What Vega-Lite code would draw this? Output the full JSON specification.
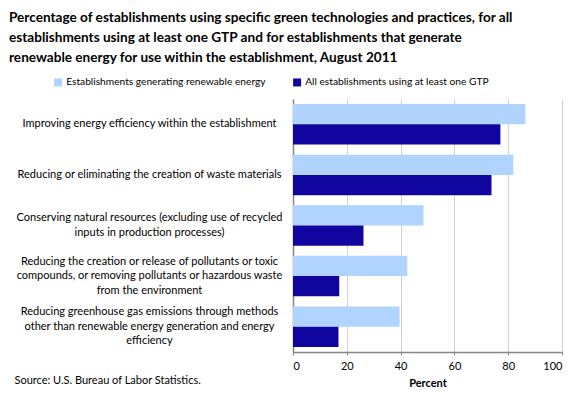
{
  "$schema": "https://vega.github.io/schema/vega-lite/v6.json",
  "width": 269,
  "height": 253,
  "autosize": {"type": "none"},
  "padding": {"left": 293, "top": 99, "right": 18, "bottom": 44},
  "background": "white",
  "title": {
    "text": [
      "Percentage of establishments using specific green technologies and practices, for all",
      "establishments using at least one GTP and for establishments that generate",
      "renewable energy for use within the establishment, August 2011"
    ],
    "anchor": "start",
    "frame": "group",
    "dx": -284,
    "offset": 12,
    "font": "Lato",
    "fontSize": 13.6,
    "fontWeight": "bold",
    "lineHeight": 20,
    "color": "#000000"
  },
  "data": {
    "values": [
      {"practice": "Improving energy efficiency within the establishment", "order": 1, "series": "Establishments generating renewable energy", "value": 86.4},
      {"practice": "Improving energy efficiency within the establishment", "order": 1, "series": "All establishments using at least one GTP", "value": 77.1},
      {"practice": "Reducing or eliminating the creation of waste materials", "order": 2, "series": "Establishments generating renewable energy", "value": 81.9},
      {"practice": "Reducing or eliminating the creation of waste materials", "order": 2, "series": "All establishments using at least one GTP", "value": 73.8},
      {"practice": "Conserving natural resources (excluding use of recycled|inputs in production processes)", "order": 3, "series": "Establishments generating renewable energy", "value": 48.5},
      {"practice": "Conserving natural resources (excluding use of recycled|inputs in production processes)", "order": 3, "series": "All establishments using at least one GTP", "value": 26.2},
      {"practice": "Reducing the creation or release of pollutants or toxic|compounds, or removing pollutants or hazardous waste|from the environment", "order": 4, "series": "Establishments generating renewable energy", "value": 42.5},
      {"practice": "Reducing the creation or release of pollutants or toxic|compounds, or removing pollutants or hazardous waste|from the environment", "order": 4, "series": "All establishments using at least one GTP", "value": 17.2},
      {"practice": "Reducing greenhouse gas emissions through methods|other than renewable energy generation and energy|efficiency", "order": 5, "series": "Establishments generating renewable energy", "value": 39.6},
      {"practice": "Reducing greenhouse gas emissions through methods|other than renewable energy generation and energy|efficiency", "order": 5, "series": "All establishments using at least one GTP", "value": 16.9}
    ]
  },
  "mark": {"type": "bar"},
  "encoding": {
    "y": {
      "field": "practice",
      "type": "nominal",
      "sort": {"field": "order", "op": "min", "order": "ascending"},
      "scale": {"paddingInner": 0.2, "paddingOuter": 0.1},
      "axis": {
        "title": "Source: U.S. Bureau of Labor Statistics.",
        "titleAngle": 0,
        "titleAlign": "left",
        "titleBaseline": "middle",
        "titleX": -279,
        "titleY": 281,
        "titleFont": "Lato",
        "titleFontSize": 11,
        "titleFontWeight": "normal",
        "titleColor": "#000000",
        "labelExpr": "split(datum.label, '|')",
        "labelAlign": "center",
        "labelPadding": 144,
        "labelLimit": 400,
        "labelFont": "Lato",
        "labelFontSize": 11,
        "labelLineHeight": 14.5,
        "labelColor": "#000000",
        "labelOffset": {
          "condition": [
            {"test": "length(split(datum.value, '|')) == 3", "value": -14.5},
            {"test": "length(split(datum.value, '|')) == 2", "value": -7.25}
          ],
          "value": 0
        },
        "ticks": false,
        "domainColor": "#868686",
        "domainWidth": 1.5,
        "grid": false
      }
    },
    "yOffset": {
      "field": "series",
      "type": "nominal",
      "sort": ["Establishments generating renewable energy", "All establishments using at least one GTP"],
      "scale": {"paddingInner": 0, "paddingOuter": 0}
    },
    "x": {
      "field": "value",
      "type": "quantitative",
      "scale": {"domain": [0, 100], "nice": false},
      "axis": {
        "title": "Percent",
        "values": [0, 20, 40, 60, 80, 100],
        "titleFont": "Lato",
        "titleFontSize": 11,
        "titleFontWeight": "bold",
        "titleColor": "#000000",
        "titlePadding": 6,
        "labelFont": "Lato",
        "labelFontSize": 11,
        "labelColor": "#000000",
        "labelPadding": 5,
        "tickSize": 3,
        "tickColor": "#868686",
        "domainColor": "#868686",
        "domainWidth": 1.5,
        "gridColor": "#d0d0d0",
        "gridWidth": 1
      }
    },
    "color": {
      "field": "series",
      "type": "nominal",
      "sort": ["Establishments generating renewable energy", "All establishments using at least one GTP"],
      "scale": {
        "domain": ["Establishments generating renewable energy", "All establishments using at least one GTP"],
        "range": ["#b0d4ff", "#10069f"]
      },
      "legend": {
        "title": null,
        "orient": "none",
        "direction": "horizontal",
        "legendX": -240,
        "legendY": -22,
        "symbolType": "square",
        "symbolSize": 64,
        "symbolStrokeWidth": 0,
        "labelFont": "Lato",
        "labelFontSize": 10.2,
        "labelColor": "#000000",
        "labelOffset": 3,
        "labelLimit": 400,
        "columnPadding": 26
      }
    }
  },
  "config": {
    "view": {"stroke": null}
  }
}
